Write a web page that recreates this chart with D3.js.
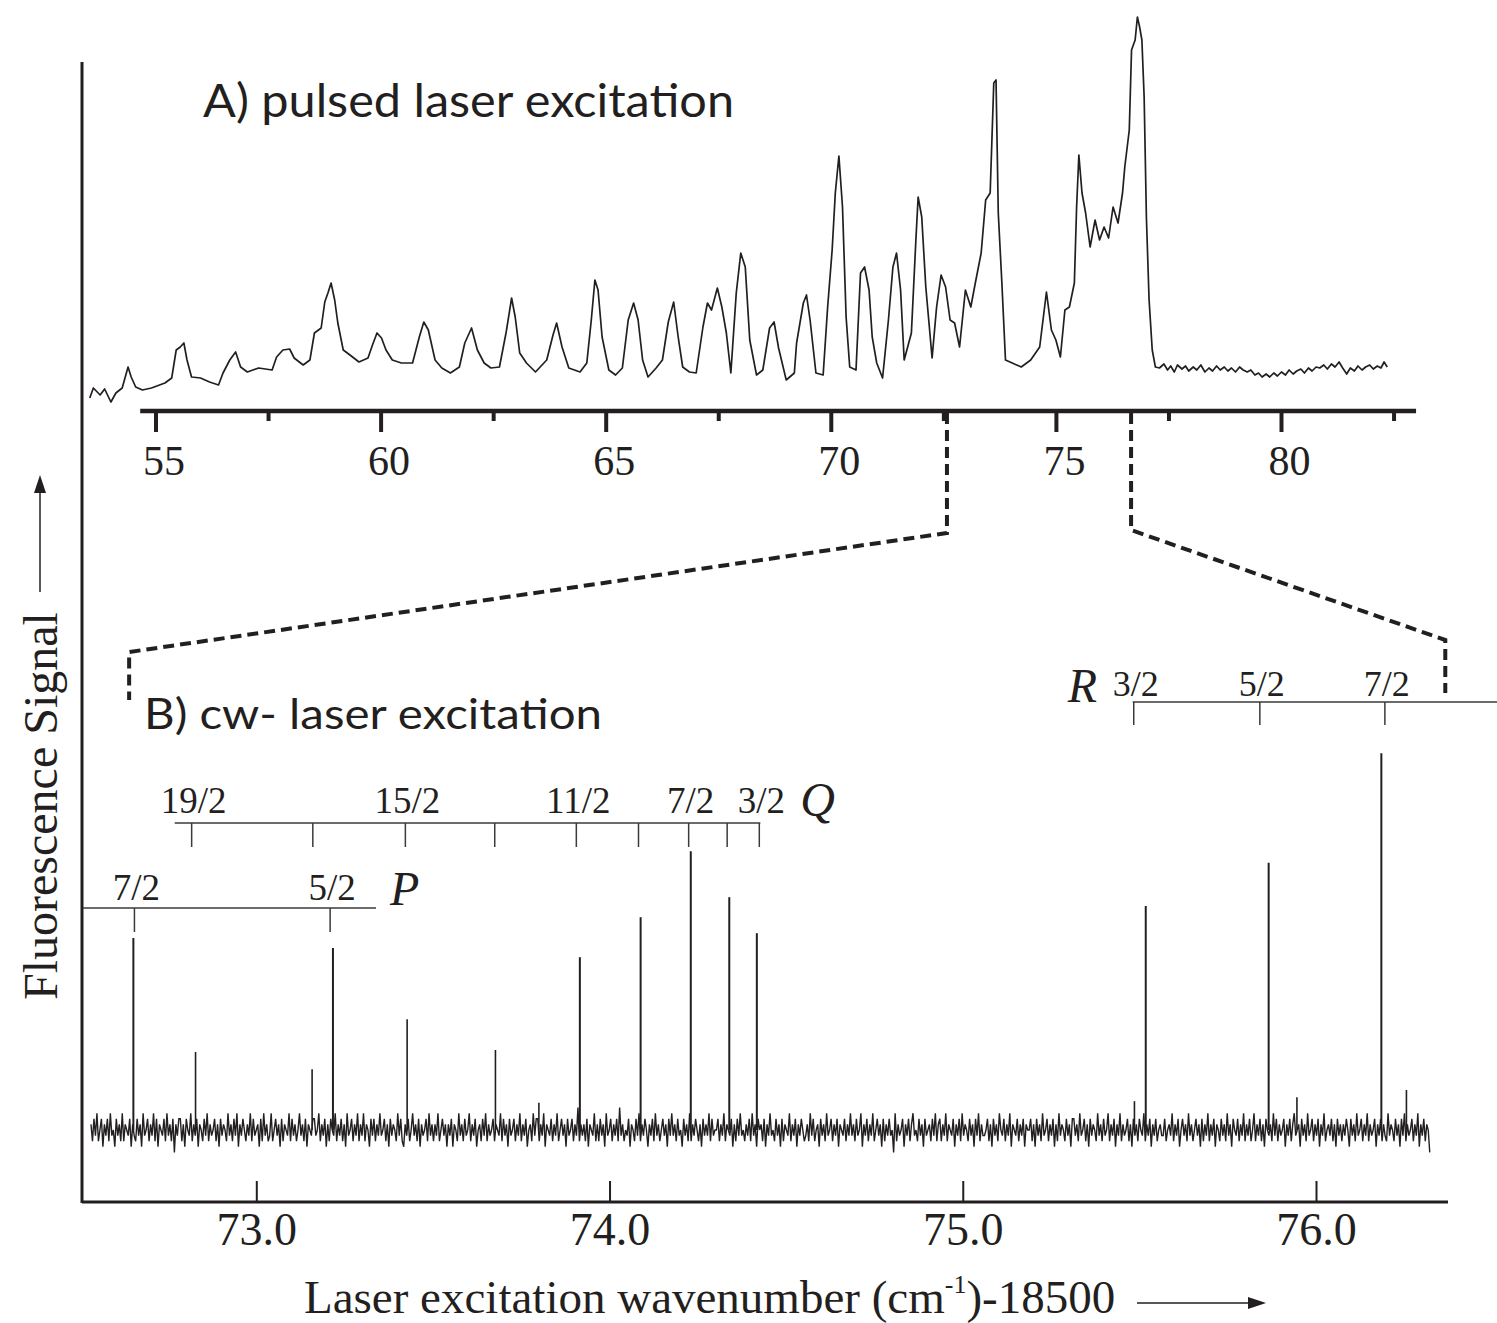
<!DOCTYPE html>
<html><head><meta charset="utf-8">
<script src="https://cdn.jsdelivr.net/npm/d3@7"></script>
<style>body{margin:0;background:#fff}
.serif{font-family:"Liberation Serif", serif !important;}
</style>
</head><body><svg id="c" width="1497" height="1323"></svg>
<script>
// ---- Panel A: pulsed laser excitation spectrum (wavenumber - 18500, signal a.u.)
const pulsedWavenumber = [
53.54,53.62,53.77,53.87,54.01,54.12,54.26,54.39,54.46,54.56,
54.71,54.91,55.21,55.36,55.46,55.55,55.63,55.70,55.80,56.00,
56.20,56.40,56.50,56.65,56.78,56.89,57.04,57.29,57.59,57.69,
57.83,57.98,58.08,58.28,58.43,58.53,58.68,58.76,58.83,58.90,
58.98,59.05,59.17,59.32,59.52,59.72,59.82,59.92,60.02,60.12,
60.26,60.46,60.71,60.86,60.96,61.06,61.21,61.36,61.55,61.75,
61.87,62.02,62.15,62.30,62.45,62.64,62.79,62.91,62.99,63.09,
63.24,63.44,63.69,63.83,63.91,64.03,64.18,64.43,64.58,64.68,
64.76,64.83,64.92,65.07,65.22,65.37,65.50,65.62,65.72,65.82,
65.94,66.12,66.26,66.39,66.51,66.61,66.71,66.86,67.01,67.16,
67.26,67.35,67.48,67.58,67.68,67.78,67.90,68.00,68.10,68.20,
68.35,68.49,68.64,68.74,68.84,69.01,69.19,69.24,69.39,69.46,
69.54,69.67,69.83,69.93,70.03,70.10,70.18,70.26,70.34,70.42,
70.56,70.66,70.75,70.85,70.92,71.02,71.15,71.28,71.38,71.46,
71.55,71.63,71.79,71.89,71.94,72.02,72.11,72.25,72.35,72.45,
72.55,72.65,72.75,72.86,72.99,73.11,73.21,73.34,73.44,73.54,
73.62,73.67,73.72,73.80,73.88,74.03,74.23,74.44,74.64,74.79,
74.90,75.00,75.10,75.20,75.30,75.41,75.46,75.51,75.58,75.66,
75.76,75.87,75.97,76.07,76.17,76.27,76.38,76.48,76.53,76.63,
76.68,76.76,76.81,76.86,76.91,76.96,77.01,77.07,77.14,77.21,
77.30,77.40,77.48,77.55,77.63,77.70,77.80,77.88,77.95,78.05,
78.13,78.22,78.31,78.40,78.48,78.57,78.65,78.74,78.82,78.90,
78.99,79.08,79.16,79.25,79.33,79.42,79.50,79.58,79.67,79.75,
79.84,79.92,80.01,80.10,80.18,80.27,80.35,80.44,80.52,80.61,
80.69,80.78,80.86,80.95,81.03,81.12,81.20,81.29,81.37,81.46,
81.54,81.63,81.71,81.80,81.88,81.97,82.05,82.14,82.22,82.29,
82.36];
const pulsedSignal = [
0.5,3,1.25,2.75,-0.5,1.75,3,8.25,5.75,3.25,
2.5,3,4.25,5.5,12.5,13.25,14.25,10,5.75,5.5,
4.5,3.75,6.75,10,12,8.25,7,8,7.5,10.75,
12.5,12.75,10.5,8.75,10,16.75,18,24.5,26.75,29.25,
25,19.25,12.5,11.25,9.5,10.5,13.75,16.75,15.5,12.5,
10,9.25,9.25,15.75,19.5,17.5,10,8,6.75,8.25,
14.25,18,12.5,9.25,8,8.25,17,25.5,20.75,11.75,
9.25,7,10,16.25,19.25,13.25,8,7,9.25,20,
30,27.5,15.75,7.5,6.25,8,20,24.25,20,10,
5.75,8,10,19.5,24.5,15.75,8.25,7,6.75,18.25,
24.25,22.5,28,23.25,16.75,6.75,26.75,36.75,33.25,15,
6.25,7.5,18,19.5,13,5,6.75,14.25,24.25,26.25,
20,6.75,6.25,23.25,37.5,51.75,61,48.25,20.75,8.25,
7.5,31.75,33.25,27.5,15.75,9.25,5.5,20,33.25,36.75,
27.5,10,16.75,40,50.75,45.75,28.25,10.5,23.25,31.25,
28.25,20,19.25,13.25,27.5,23.25,29.25,36.75,50,51.75,
79.25,80,46.75,29.25,10,9.25,8.25,10,13.25,27,
17.5,15,10.75,22.5,23.25,29.25,48.25,61.25,51.75,46.75,
38.25,45,40,43.25,40.5,48.25,44.25,51.75,58.25,67.5,
87.5,90,95.75,93.25,90,75.75,45.75,25,12.5,8.25,
8,9,7.5,8.5,7,8.75,7.75,8.5,7.25,8.25,
7.5,8.75,7,8,7.25,8.5,7.5,8.25,7.25,8,
7,8.25,7.5,7,7.5,6.25,6.75,5.75,6.5,5.75,
6.75,6,7,6.25,7.5,6.5,7.25,7.75,6.75,8,
7.25,8.25,8,8.75,7.75,9,8.25,9.5,8,6.5,
8,7.25,8.5,7.5,8.25,8.75,7.75,8.5,8,9.5,
8.25];
const topMajorTicks = [55, 60, 65, 70, 75, 80];
const topMinorTicks = [57.5, 62.5, 67.5, 72.5, 77.5, 82.5];

// ---- Panel B: cw laser excitation spectrum
const cwLinePosition = [72.652,72.828,73.158,73.217,73.427,73.677,73.800,73.916,74.088,74.230,74.339,74.417,75.486,75.518,75.866,75.946,76.185,76.256];
const cwLineSignal   = [48,19.5,15.2,45.5,27.7,20,6.8,43.2,53.2,69.7,58.2,49.2,7.2,56,66.8,8.2,94.2,10];
const cwNoiseRange = [72.532, 76.322];
const cwNoise = [
1,-2,2,-1,3,-2,0,2,-3,1,-1,2,-2,3,-1,0,-3,2,-1,1,-2,3,-2,1,0,-1,2,-3,1,-1,
-2,2,-1,1,-3,3,-1,0,2,-2,1,-1,3,-2,2,-3,1,0,-1,2,-2,3,-1,1,-2,2,-4,1,-1,2,
2,-2,1,-3,2,0,-1,3,-2,1,-1,2,-3,1,0,-2,2,-1,3,-2,1,-1,0,2,-2,1,-3,2,-1,1,
0,-2,3,-1,1,-2,2,-1,3,-3,1,-1,2,0,-2,1,-1,3,-2,2,-1,0,1,-3,2,-2,3,-1,1,-2,
-1,3,-2,0,2,-1,1,-3,2,-2,1,0,-1,3,-2,2,-1,1,-2,0,3,-1,1,-2,2,-3,1,0,-1,2,
2,-1,0,3,-2,1,-1,2,-3,1,-2,2,0,-1,3,-2,1,-1,2,-2,1,-3,3,-1,0,2,-2,1,-1,3,
-2,1,-1,3,-2,1,0,-3,2,-1,2,-2,1,-1,3,-1,0,2,-2,1,-3,2,-1,1,0,-2,3,-1,2,-2,
-3,1,-1,2,-2,0,3,-1,1,-2,2,-3,1,-1,0,2,-2,3,-1,1,-2,1,-1,3,-2,0,2,-1,1,-3,
1,-1,2,-3,1,0,-2,3,-1,1,-2,2,-1,0,3,-2,1,-1,2,-3,0,1,-2,2,-1,3,-2,1,-1,0,
2,-2,1,0,-1,3,-2,2,-1,1,-3,2,-1,0,2,-2,1,-1,3,-2,1,-1,2,-3,0,1,-2,3,-1,2,
2,-2,1,-1,3,-3,1,0,-1,2,-2,1,-1,3,-2,0,2,-1,1,-3,2,-1,0,2,-2,1,-1,4,-2,1,
-1,1,-2,2,-3,1,0,-1,3,-2,1,-2,2,-1,1,-3,3,-1,0,2,-2,1,-1,2,-2,4,-1,1,-2,0,
-1,2,-3,1,0,-2,2,-1,3,-2,1,-1,2,0,-3,1,-1,2,-2,3,-1,1,-2,0,2,-1,1,-3,2,-1,
3,-1,1,-2,2,-1,0,-3,2,-1,1,-2,3,-2,1,-1,2,0,-2,1,-3,2,-1,1,-1,3,-2,2,-1,0,
0,2,-2,1,-1,3,-2,1,0,-1,2,-3,1,-2,2,-1,3,-1,0,-2,1,-1,2,-2,3,-1,1,-3,2,0,
1,-2,2,-3,1,-1,3,-1,0,-2,2,-1,1,-3,2,-2,1,0,-1,3,-2,1,-1,2,-3,1,-1,2,0,-2,
-1,1,-2,3,-1,2,-2,0,1,-3,2,-1,1,-2,3,-1,0,2,-2,1,-1,2,-3,1,0,-1,2,-2,1,-1,
3,-1,1,-2,2,-1,0,3,-3,1,-1,2,-2,1,-1,3,-2,0,2,-1,1,-3,2,-2,1,-1,2,-1,0,-4,
3,-2,1,-1,0,2,-3,1,-1,2,-2,1,3,-1,0,-2,2,-1,1,-3,2,-1,0,1,-2,2,-1,3,-2,1,
2,-2,1,-1,3,-2,1,0,-1,2,-3,1,-1,2,-2,3,-1,1,0,-2,2,-1,1,-3,2,-1,3,-2,1,-1,
-1,0,2,-2,1,-3,2,-1,1,-2,3,0,-1,2,-2,1,-1,3,-3,1,0,-1,2,-2,1,-1,2,-3,1,0,
0,2,-2,1,-3,2,-1,1,-2,3,-1,0,2,-2,1,-1,2,-3,1,-2,3,-1,1,0,-2,2,-1,1,-3,2,
2,-1,1,-2,3,-1,0,2,-2,1,-3,2,-1,1,0,-2,3,-1,1,-2,2,-1,0,3,-2,1,-1,2,-3,1,
-1,3,-2,1,-1,0,2,-2,1,-3,2,-1,1,-2,2,0,-1,3,-2,1,-1,2,-3,1,-1,2,-2,0,1,-1,
-1,2,-2,0,1,-1,3,-2,1,-1,2,-3,0,2,-1,1,-2,3,-1,1,-2,0,2,-1,1,-3,2,-2,1,-1,
3,-2,1,-1,2,-3,1,0,-2,2,-1,1,-2,3,-1,1,-3,2,0,-1,2,-2,1,-1,3,-2,1,-1,2,-2,
0,3,-2,1,-1,2,-2,1,-3,2,0,-1,1,-2,3,-1,2,-2,1,-1,0,2,-3,1,-1,2,-2,1,3,-1,
0,1,-3,2,-1,1,-2,3,-1,0,2,-2,1,-1,2,-3,1,-1,3,-2,0,1,-1,2,-2,1,-3,2,-1,1,
-2,1,-1,2,0,-3,2,-1,1,-2,3,-1,0,2,-2,1,-1,3,-2,1,-1,0,2,-3,1,-1,2,-2,1,-1,
-2,3,-1,1,0,-2,2,-1,1,-3,2,-1,3,-2,1,-1,0,2,-2,1,-1,3,-3,1,-1,2,-2,1,0,-4];
const bottomTicks = [73.0, 74.0, 75.0, 76.0];

// Assignment combs (rotational lines)
const qBranchPos    = [72.817,73.160,73.422,73.675,73.906,74.082,74.224,74.333,74.424];
const qBranchLabels = ["19/2","","15/2","","11/2","","7/2","","3/2"];
const qBranchSpan   = [72.769, 74.427];
const pBranchPos    = [72.655, 73.209];
const pBranchLabels = ["7/2","5/2"];
const pBranchSpan   = [72.509, 73.339];
const rBranchPos    = [75.484, 75.841, 76.195];
const rBranchLabels = ["3/2","5/2","7/2"];
const rBranchSpan   = [75.481, 76.52];

// expanded region marker (top axis -> bottom panel)
const zoomTop = [72.58, 76.67];
const zoomBottom = [72.64, 76.366];

const INK = "#231f20";
const SERIF = "'Liberation Serif', 'Times New Roman', serif";
const svg = d3.select("#c");
svg.append("rect").attr("width",1497).attr("height",1323).attr("fill","#fff");

const xA = d3.scaleLinear().domain([55, 80]).range([155.5, 1281]);
const yA = d3.scaleLinear().domain([0, 100]).range([400, 0]);
const xB = d3.scaleLinear().domain([73, 76]).range([256.3, 1316]);
const yB = d3.scaleLinear().domain([0, 100]).range([1130, 730]);

// left frame line
svg.append("line").attr("x1",82).attr("x2",82).attr("y1",62).attr("y2",1203)
  .attr("stroke",INK).attr("stroke-width",3);

// ---------- Panel A
const pulsed = pulsedWavenumber.map((w,i)=>[w, pulsedSignal[i]]);
svg.append("path").datum(pulsed)
  .attr("d", d3.line().x(d=>xA(d[0])).y(d=>yA(d[1])))
  .attr("fill","none").attr("stroke",INK).attr("stroke-width",1.7).attr("stroke-linejoin","round");

const axA = svg.append("g").attr("transform","translate(0,411)")
  .call(d3.axisBottom(xA).tickValues(topMajorTicks).tickSize(21).tickFormat(d3.format("d")))
  .attr("font-family",SERIF).attr("font-size",42);
axA.select(".domain").remove();
axA.selectAll(".tick line").attr("stroke",INK).attr("stroke-width",4);
axA.selectAll(".tick text").attr("y",64).attr("dy",0).attr("dx",8).attr("class","serif")
  .attr("fill",INK).attr("font-family",SERIF).style("font-family",SERIF).style("font-size","42px");
const axA2 = svg.append("g").attr("transform","translate(0,411)")
  .call(d3.axisBottom(xA).tickValues(topMinorTicks).tickSize(10).tickFormat(""));
axA2.select(".domain").remove();
axA2.selectAll(".tick line").attr("stroke",INK).attr("stroke-width",4);
svg.append("line").attr("x1",xA(54.66)).attr("x2",xA(83.0)).attr("y1",411).attr("y2",411)
  .attr("stroke",INK).attr("stroke-width",4.5);

svg.append("text").attr("x",203).attr("y",117).text("A) pulsed laser excitation")
  .attr("textLength",531).attr("lengthAdjust","spacingAndGlyphs")
  .attr("fill",INK).style("font-family","Lato, sans-serif").style("font-size","46px");

// ---------- connectors (dashed)
function dashed(pts){
  svg.append("path").attr("d", d3.line()(pts)).attr("fill","none")
    .attr("stroke",INK).attr("stroke-width",4).attr("stroke-dasharray","11,6");
}
dashed([[xA(zoomTop[0]),413],[xA(zoomTop[0]),533],[xB(zoomBottom[0]),652],[xB(zoomBottom[0]),700]]);
dashed([[xA(zoomTop[1]),413],[xA(zoomTop[1]),530],[xB(zoomBottom[1]),640],[xB(zoomBottom[1]),693]]);

// ---------- Panel B
svg.append("text").attr("x",144).attr("y",729).text("B) cw- laser excitation")
  .attr("textLength",458).attr("lengthAdjust","spacingAndGlyphs")
  .attr("fill",INK).style("font-family","Lato, sans-serif").style("font-size","42px");

const step = (cwNoiseRange[1]-cwNoiseRange[0])/(cwNoise.length-1);
const noisePts = cwNoise.map((v,i)=>[cwNoiseRange[0]+i*step, v]);
svg.append("path").datum(noisePts)
  .attr("d", d3.line().x(d=>xB(d[0])).y(d=>yB(d[1]*1.4)))
  .attr("fill","none").attr("stroke",INK).attr("stroke-width",1.4);
svg.append("g").selectAll("line").data(cwLinePosition).join("line")
  .attr("x1",d=>xB(d)).attr("x2",d=>xB(d))
  .attr("y1",yB(0)).attr("y2",(d,i)=>yB(cwLineSignal[i]))
  .attr("stroke",INK).attr("stroke-width",(d,i)=>cwLineSignal[i]>30?2:1.6);

// assignment combs
function comb(pos, labels, span, yLine, tickLen, fontSize, labelBase){
  const g = svg.append("g");
  g.append("line").attr("x1",xB(span[0])).attr("x2",xB(span[1]))
    .attr("y1",yLine).attr("y2",yLine).attr("stroke","#3a3a3a").attr("stroke-width",1.5);
  g.selectAll("line.t").data(pos).join("line").attr("class","t")
    .attr("x1",d=>xB(d)).attr("x2",d=>xB(d)).attr("y1",yLine).attr("y2",yLine+tickLen)
    .attr("stroke","#3a3a3a").attr("stroke-width",1.5);
  g.selectAll("text").data(pos).join("text")
    .attr("x",d=>xB(d)+2).attr("y",labelBase).attr("text-anchor","middle")
    .text((d,i)=>labels[i]).attr("fill",INK)
    .style("font-family",SERIF).style("font-size",fontSize+"px");
}
comb(qBranchPos,qBranchLabels,qBranchSpan,823,24,37,813);
comb(pBranchPos,pBranchLabels,pBranchSpan,908,24,37,900);
comb(rBranchPos,rBranchLabels,rBranchSpan,702,23,36,696);
const ital = t=>t.attr("fill",INK).style("font-family",SERIF).style("font-style","italic").style("font-size","48px");
ital(svg.append("text").attr("x",xB(qBranchSpan[1])+40).attr("y",816).text("Q"));
ital(svg.append("text").attr("x",xB(pBranchSpan[1])+14).attr("y",905).text("P"));
ital(svg.append("text").attr("x",xB(rBranchSpan[0])-65).attr("y",702).text("R"));

// bottom axis
const axB = svg.append("g").attr("transform","translate(0,1202)")
  .call(d3.axisBottom(xB).tickValues(bottomTicks).tickSizeInner(-21).tickSizeOuter(0).tickFormat(d3.format(".1f")))
  .attr("font-family",SERIF).attr("font-size",46);
axB.select(".domain").remove();
axB.selectAll(".tick line").attr("stroke",INK).attr("stroke-width",2);
axB.selectAll(".tick text").attr("y",43).attr("dy",0).attr("class","serif")
  .attr("fill",INK).attr("font-family",SERIF).style("font-family",SERIF).style("font-size","46px");
svg.append("line").attr("x1",82).attr("x2",1448).attr("y1",1202).attr("y2",1202)
  .attr("stroke",INK).attr("stroke-width",3);

// axis titles
const xt = svg.append("text").attr("x",304).attr("y",1313).attr("fill",INK)
  .style("font-family",SERIF).style("font-size","47px");
xt.append("tspan").text("Laser excitation wavenumber (cm");
xt.append("tspan").attr("dy",-20).style("font-size","26px").text("-1");
xt.append("tspan").attr("dy",20).text(")-18500");
svg.append("line").attr("x1",1137).attr("x2",1252).attr("y1",1303).attr("y2",1303).attr("stroke",INK).attr("stroke-width",1.5);
svg.append("path").attr("d","M1266,1303 L1248,1297 L1248,1309 Z").attr("fill",INK);

svg.append("text").attr("transform","translate(57,1000) rotate(-90)").text("Fluorescence Signal")
  .attr("fill",INK).style("font-family",SERIF).style("font-size","48px");
svg.append("line").attr("x1",40).attr("x2",40).attr("y1",592).attr("y2",490).attr("stroke",INK).attr("stroke-width",1.5);
svg.append("path").attr("d","M40,475 L34,493 L46,493 Z").attr("fill",INK);
</script></body></html>
